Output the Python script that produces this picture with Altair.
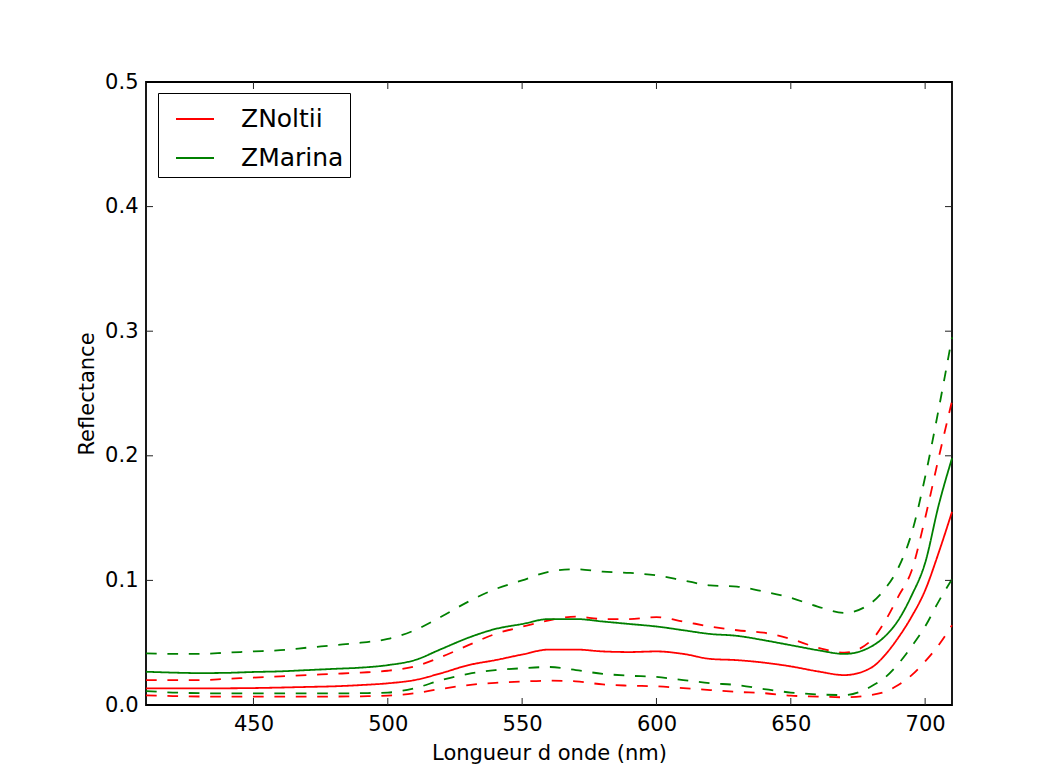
import altair as alt
import pandas as pd

wavelength = [410, 420, 430, 440, 450, 460, 470, 480, 490, 500, 510, 520, 530, 540, 550,
              560, 570, 580, 590, 600, 610, 620, 630, 640, 650, 660, 670, 680, 685, 690,
              695, 700, 705, 710]

znoltii_mean = [0.0134, 0.0133, 0.0133, 0.0134, 0.0136, 0.014, 0.0145, 0.015, 0.016, 0.0174,
                0.020, 0.0256, 0.032, 0.036, 0.0405, 0.0445, 0.0445, 0.043, 0.0425, 0.043,
                0.041, 0.037, 0.036, 0.034, 0.031, 0.027, 0.024, 0.030, 0.040, 0.054,
                0.071, 0.092, 0.122, 0.155]
znoltii_upper = [0.020, 0.020, 0.020, 0.021, 0.022, 0.023, 0.024, 0.025, 0.026, 0.0275,
                 0.031, 0.0387, 0.048, 0.057, 0.0628, 0.068, 0.071, 0.069, 0.069, 0.0705,
                 0.067, 0.063, 0.060, 0.058, 0.053, 0.046, 0.042, 0.052, 0.067, 0.087,
                 0.108, 0.150, 0.198, 0.244]
znoltii_lower = [0.0078, 0.0072, 0.0068, 0.0067, 0.0067, 0.0067, 0.0067, 0.0068, 0.007, 0.0075,
                 0.0095, 0.013, 0.016, 0.0178, 0.0188, 0.0195, 0.019, 0.0165, 0.0155, 0.015,
                 0.0135, 0.012, 0.0105, 0.0095, 0.0075, 0.0068, 0.0062, 0.008, 0.0105, 0.016,
                 0.024, 0.035, 0.048, 0.064]
zmarina_mean = [0.0267, 0.026, 0.0256, 0.0258, 0.0265, 0.027, 0.028, 0.029, 0.030, 0.032,
                0.036, 0.045, 0.054, 0.061, 0.065, 0.069, 0.069, 0.067, 0.065, 0.063,
                0.060, 0.057, 0.0555, 0.052, 0.048, 0.044, 0.041, 0.047, 0.055, 0.068,
                0.088, 0.114, 0.160, 0.198]
zmarina_upper = [0.0414, 0.041, 0.041, 0.042, 0.043, 0.044, 0.046, 0.048, 0.050, 0.053,
                 0.060, 0.071, 0.083, 0.093, 0.100, 0.107, 0.109, 0.107, 0.106, 0.104,
                 0.100, 0.096, 0.095, 0.091, 0.086, 0.079, 0.074, 0.082, 0.093, 0.110,
                 0.138, 0.183, 0.237, 0.295]
zmarina_lower = [0.0112, 0.010, 0.0095, 0.0093, 0.0093, 0.0093, 0.0093, 0.0093, 0.0095, 0.010,
                 0.0135, 0.020, 0.025, 0.028, 0.0295, 0.0305, 0.028, 0.025, 0.0235, 0.0225,
                 0.020, 0.0175, 0.016, 0.0128, 0.010, 0.0085, 0.008, 0.015, 0.022, 0.033,
                 0.047, 0.063, 0.083, 0.101]

species_names = ["ZNoltii", "ZMarina"]
species_colors = ["#ff0000", "#008000"]
x_ticks = [450, 500, 550, 600, 650, 700]
y_ticks = [0.0, 0.1, 0.2, 0.3, 0.4, 0.5]
y_inner_ticks = [0.1, 0.2, 0.3, 0.4]

series = [
    ("ZNoltii", "mean", znoltii_mean),
    ("ZNoltii", "upper", znoltii_upper),
    ("ZNoltii", "lower", znoltii_lower),
    ("ZMarina", "mean", zmarina_mean),
    ("ZMarina", "upper", zmarina_upper),
    ("ZMarina", "lower", zmarina_lower),
]
rows = []
for order, (sp, kind, vals) in enumerate(series):
    style = "solid" if kind == "mean" else "dashed"
    for w, v in zip(wavelength, vals):
        rows.append({"wl": w, "value": v, "species": sp, "kind": sp + "_" + kind,
                     "style": style, "order": order})
df = pd.DataFrame(rows)

W, H = 806, 623
FONT = "DejaVu Sans"
NBSP = "\u00a0"
x_scale = alt.Scale(domain=[410, 710], nice=False, zero=False)
y_scale = alt.Scale(domain=[0, 0.5], nice=False, zero=False)
x_axis = alt.Axis(values=x_ticks, title="Longueur d onde (nm)", format="d")
y_axis = alt.Axis(values=y_ticks, title="Reflectance", format=".1f")

lines = alt.Chart(df).mark_line(strokeWidth=1.8, interpolate="monotone").encode(
    x=alt.X("wl:Q", scale=x_scale, axis=x_axis),
    y=alt.Y("value:Q", scale=y_scale, axis=y_axis),
    color=alt.Color("species:N",
                    scale=alt.Scale(domain=species_names, range=species_colors),
                    legend=alt.Legend(orient="none", legendX=12, legendY=11, title=None,
                                      labelFont=FONT, labelFontSize=25, labelColor="black",
                                      labelExpr="datum.label + '" + NBSP + "'",
                                      symbolType="stroke", symbolSize=1444,
                                      symbolStrokeWidth=1.8, symbolOffset=11,
                                      labelOffset=26, padding=6, rowPadding=6,
                                      strokeColor="black", fillColor="white",
                                      cornerRadius=0)),
    strokeDash=alt.StrokeDash("style:N",
                              scale=alt.Scale(domain=["solid", "dashed"],
                                              range=[[1, 0], [10.7, 10.7]]),
                              legend=None),
    detail="kind:N",
    order="order:Q",
)

xt = pd.DataFrame({"wl": x_ticks})
yt = pd.DataFrame({"value": y_inner_ticks})
tick_color = "#222222"
xb = alt.Chart(xt).mark_rule(color=tick_color, strokeWidth=1).encode(
    x=alt.X("wl:Q", scale=x_scale, axis=x_axis), y=alt.value(H), y2=alt.value(H - 7))
xtop = alt.Chart(xt).mark_rule(color=tick_color, strokeWidth=1).encode(
    x=alt.X("wl:Q", scale=x_scale, axis=x_axis), y=alt.value(0), y2=alt.value(7))
yl = alt.Chart(yt).mark_rule(color=tick_color, strokeWidth=1).encode(
    y=alt.Y("value:Q", scale=y_scale, axis=y_axis), x=alt.value(0), x2=alt.value(7))
yr = alt.Chart(yt).mark_rule(color=tick_color, strokeWidth=1).encode(
    y=alt.Y("value:Q", scale=y_scale, axis=y_axis), x=alt.value(W), x2=alt.value(W - 7))

chart = alt.layer(lines, xb, xtop, yl, yr).properties(
    width=W, height=H,
    autosize=alt.AutoSizeParams(type="none"),
    padding={"left": 138, "top": 74, "right": 103, "bottom": 64},
    background="white",
).configure_view(
    stroke="black", strokeWidth=1.8
).configure_axis(
    grid=False, domain=False, ticks=False,
    labelFont=FONT, labelFontSize=21, labelColor="black", labelPadding=8,
    titleFont=FONT, titleFontSize=21, titleFontWeight="normal", titleColor="black",
).configure_axisX(
    titlePadding=8
).configure_axisY(
    titlePadding=7
)

chart.save("out.html", embed_options={"renderer": "svg", "actions": False})
